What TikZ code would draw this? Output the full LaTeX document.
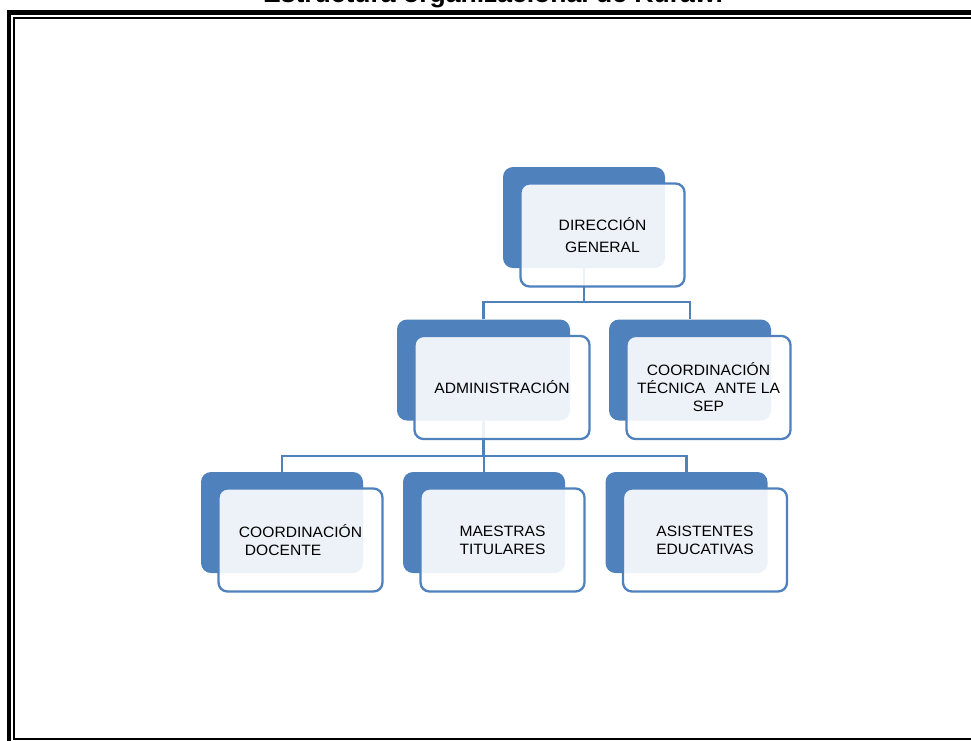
\documentclass[tikz,border=0pt]{standalone}
\usepackage{fontspec}
\setmainfont{Liberation Sans}[FakeStretch=1.04]
\usetikzlibrary{positioning}
\definecolor{orgblue}{HTML}{4F81BD}

\begin{document}
\begin{tikzpicture}[x=1pt,y=-1pt,node distance=17.5pt and 18.5pt,on grid,
    back/.style={fill=orgblue,rounded corners=10pt,minimum width=162pt,minimum height=101pt,inner sep=0pt},
    front/.style={draw=orgblue,line width=2.3pt,fill=white,fill opacity=.9,text opacity=1,rounded corners=9pt,
                  minimum width=164pt,minimum height=103pt,inner sep=0pt,align=center,
                  font=\fontsize{15}{18}\selectfont},
    link/.style={draw=orgblue,line width=2.2pt}]
    \useasboundingbox (0,0) rectangle (971,740);
    \clip (0,0) rectangle (971,740);
    % marco
    \draw[line width=4.5pt] (9,760) -- (9,12.5) -- (990,12.5);
    \draw[line width=1.8pt] (990,18) -- (14.2,18) -- (14.2,739) -- (990,739);
    \node[font=\bfseries\fontsize{25.5}{30}\selectfont,anchor=base] (titulo) at (493,2.5) {Estructura organizacional de Kurawi};
    % cajas de fondo
    \node[back] (dg) at (584,217.5) {};
    \node[back,minimum width=173pt] (adm) at (483.5,370) {};
    \node[back] (ct) at (690,370) {};
    \node[back] (cd) at (282,522.5) {};
    \node[back] (mt) at (484,522.5) {};
    \node[back] (ae) at (686.5,522.5) {};
    % conectores
    \draw[link] (dg.south) -- ++(0,34) coordinate (b1) -| (adm.north)
                (b1) -| (ct.north);
    \draw[link] (adm.south) -- ++(0,35) coordinate (b2) -| (cd.north)
                (b2) -| (mt.north)
                (b2) -| (ae.north);
    % cajas de texto
    \node[front,font=\fontsize{15}{22}\selectfont] (dgf) [below right=of dg] {DIRECCIÓN\\GENERAL};
    \node[front,minimum width=175pt] (admf) [below right=of adm] {ADMINISTRACIÓN};
    \node[front] (ctf) [below right=of ct] {COORDINACIÓN\\TÉCNICA\hspace{5pt} ANTE LA\\SEP};
    \node[front,align=left] (cdf) [below right=of cd] {COORDINACIÓN\\\hspace*{6pt}DOCENTE};
    \node[front] (mtf) [below right=of mt] {MAESTRAS\\TITULARES};
    \node[front] (aef) [below right=of ae] {ASISTENTES\\EDUCATIVAS};
\end{tikzpicture}
\end{document}
